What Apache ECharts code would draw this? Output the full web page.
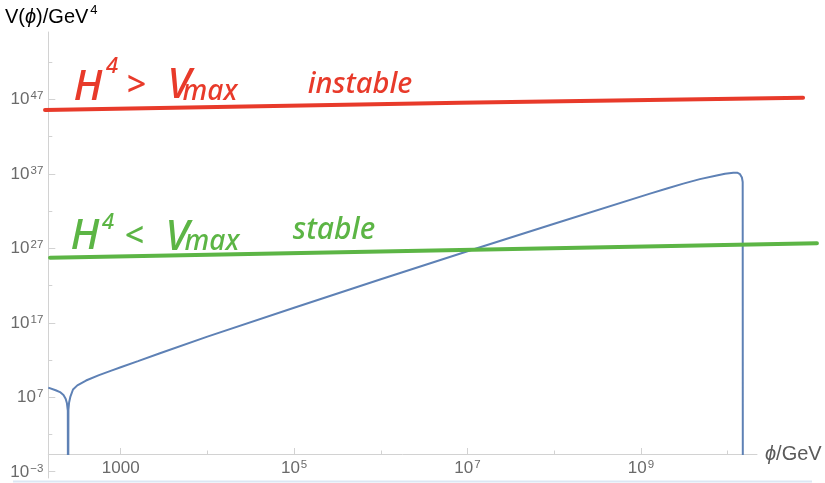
<!DOCTYPE html>
<html>
<head>
<meta charset="utf-8">
<script src="https://cdn.jsdelivr.net/npm/echarts@6/dist/echarts.min.js"></script>
<style>
  html, body { margin: 0; padding: 0; background: #fff; }
  #chart { width: 825px; height: 483px; }
</style>
</head>
<body>
<div id="chart"></div>
<script>
// Effective potential V(ϕ): log10 ϕ (GeV) against log10 V (GeV^4).
// V passes through zero near ϕ ≈ 250 GeV and again near ϕ ≈ 1.5e10 GeV,
// where log10 V diverges; those points sit far below the axis and are clipped.
const phiExp = [2.165, 2.25, 2.30, 2.34, 2.365, 2.38, 2.39, 2.393, 2.397, 2.405,
                2.42, 2.45, 2.50, 2.60, 2.75, 2.90, 3.0, 3.2, 3.453, 4.0,
                5.0, 6.0, 7.0, 8.0, 9.105, 9.3, 9.489, 9.68, 9.874, 9.97,
                10.066, 10.11, 10.143, 10.165, 10.174, 10.176];
const vExp   = [8.3, 7.95, 7.7, 7.3, 6.8, 6.2, 5.2, -20, 5.3, 6.3,
                7.1, 8.05, 8.6, 9.25, 9.98, 10.62, 11.03, 11.85, 12.92, 15.14,
                19.02, 22.85, 26.61, 30.30, 34.34, 35.03, 35.68, 36.28, 36.78, 37.0,
                37.15, 37.15, 36.95, 36.5, 35.9, -20];

// Hand-drawn H^4 levels
const unstablePhiExp = [2.127, 6.913, 10.87];
const unstableVExp   = [45.56, 46.54, 47.21];
const stablePhiExp   = [2.185, 6.913, 11.03];
const stableVExp     = [25.74, 26.77, 27.67];

// Axis ticks (powers of ten)
const xMajorExp = [3, 5, 7, 9];
const xMinorExp = [4, 6, 8, 10];
const yMajorExp = [-3, 7, 17, 27, 37, 47];
const yMinorExp = [2, 12, 22, 32, 42, 52];

const zip = (a, b) => a.map((v, i) => [v, b[i]]);

const AXIS = '#d2d2d2';
const LABEL = '#6a6a6a';
const NAME = '#5a5a5a';
const FONT = 'Liberation Sans';
const BLUE = '#5e81b5';
const RED = '#e83a2a';
const GREEN = '#5cb545';

// x and y scales: 86.7 px per decade of ϕ, 7.45 px per decade of V
const X_MIN = 2.165, X_MAX = 10.339;
const Y_MIN = -0.61, Y_MAX = 56.03;
const Y_AXIS_MIN = -3.84;

const powRich = {
  b: { fontFamily: FONT, fontSize: 17, color: LABEL, lineHeight: 18, verticalAlign: 'bottom' },
  s: { fontFamily: FONT, fontSize: 11.5, color: LABEL, lineHeight: 18, verticalAlign: 'top', padding: [0, 0, 0, 1] }
};
function powLabel(n) {
  const e = n < 0 ? '\u2212' + Math.abs(n) : String(n);
  return '{b|10}{s|' + e + '}';
}

const chart = echarts.init(document.getElementById('chart'), null, { renderer: 'canvas' });

// Handwritten annotations
const hand = (text, x, y, size, color) => ({
  type: 'text', x: x, y: y, silent: true,
  style: {
    text: text, fill: color, align: 'center', verticalAlign: 'middle',
    font: 'italic 500 ' + size + 'px "Noto Sans"'
  }
});

chart.setOption({
  animation: false,
  backgroundColor: '#ffffff',
  grid: [
    { left: 48.3, top: 32, width: 708.7, height: 422 },
    { left: 48.3, top: 32, width: 708.7, height: 446 },
    { left: 40, top: 32, width: 785, height: 422 }
  ],
  xAxis: [
    {
      gridIndex: 0, type: 'value', min: X_MIN, max: X_MAX, position: 'bottom',
      axisLine: { onZero: false, lineStyle: { color: AXIS, width: 1 } },
      axisTick: { inside: true, length: 6, customValues: xMajorExp, lineStyle: { color: AXIS } },
      axisLabel: {
        customValues: xMajorExp, margin: 5,
        formatter: v => v === 3 ? '{b|1000}' : powLabel(v), rich: powRich
      },
      splitLine: { show: false },
      name: '{i|ϕ}{t|/GeV}', nameLocation: 'end', nameGap: 8,
      nameTextStyle: {
        rich: {
          i: { fontFamily: FONT, fontSize: 20, fontStyle: 'italic', color: NAME },
          t: { fontFamily: FONT, fontSize: 20, color: NAME }
        }
      }
    },
    {
      gridIndex: 0, type: 'value', min: X_MIN, max: X_MAX, position: 'bottom',
      axisLine: { show: false, onZero: false },
      axisTick: { inside: true, length: 3.5, customValues: xMinorExp, lineStyle: { color: AXIS } },
      axisLabel: { show: false }, splitLine: { show: false }
    },
    { gridIndex: 1, type: 'value', min: 0, max: 1, show: false },
    { gridIndex: 2, type: 'value', min: 2.069, max: 11.123, show: false }
  ],
  yAxis: [
    { gridIndex: 0, type: 'value', min: Y_MIN, max: Y_MAX, show: false },
    {
      gridIndex: 1, type: 'value', min: Y_AXIS_MIN, max: Y_MAX, position: 'left',
      axisLine: { show: true, onZero: false, lineStyle: { color: AXIS, width: 1 } },
      axisTick: { show: true, inside: true, length: 7, customValues: yMajorExp, lineStyle: { color: AXIS } },
      axisLabel: { customValues: yMajorExp, margin: 5, formatter: v => powLabel(v), rich: powRich },
      splitLine: { show: false }
    },
    {
      gridIndex: 1, type: 'value', min: Y_AXIS_MIN, max: Y_MAX, position: 'left',
      axisLine: { show: false, onZero: false },
      axisTick: { show: true, inside: true, length: 4, customValues: yMinorExp, lineStyle: { color: AXIS } },
      axisLabel: { show: false }, splitLine: { show: false }
    },
    { gridIndex: 2, type: 'value', min: Y_MIN, max: Y_MAX, show: false }
  ],
  series: [
    {
      type: 'line', xAxisIndex: 0, yAxisIndex: 0,
      data: zip(phiExp, vExp), showSymbol: false, symbol: 'none', clip: true,
      lineStyle: { color: BLUE, width: 2 }, z: 3
    },
    {
      type: 'line', xAxisIndex: 3, yAxisIndex: 3,
      data: zip(unstablePhiExp, unstableVExp), symbol: 'none', clip: false,
      lineStyle: { color: RED, width: 4, cap: 'round' }, z: 4
    },
    {
      type: 'line', xAxisIndex: 3, yAxisIndex: 3,
      data: zip(stablePhiExp, stableVExp), symbol: 'none', clip: false,
      lineStyle: { color: GREEN, width: 4, cap: 'round' }, z: 4
    }
  ],
  graphic: [
    {
      type: 'text', left: 5, top: 4, silent: true,
      style: {
        text: '{t|V(}{i|ϕ}{t|)/GeV}{s|4}',
        rich: {
          t: { fontFamily: FONT, fontSize: 20, color: NAME, lineHeight: 23, verticalAlign: 'bottom' },
          i: { fontFamily: FONT, fontSize: 20, color: NAME, fontStyle: 'italic', lineHeight: 23, verticalAlign: 'bottom' },
          s: { fontFamily: FONT, fontSize: 13, color: NAME, lineHeight: 23, verticalAlign: 'top', padding: [0, 0, 0, 2] }
        }
      }
    },
    hand('H', 88, 88, 42, RED),
    hand('4', 112, 67, 22, RED),
    hand('>', 136, 86, 34, RED),
    hand('V', 179, 86, 42, RED),
    hand('max', 210, 92, 28, RED),
    hand('instable', 360, 85, 29, RED),
    hand('H', 85, 237, 42, GREEN),
    hand('4', 108, 223, 22, GREEN),
    hand('<', 134, 237, 34, GREEN),
    hand('V', 177, 238, 42, GREEN),
    hand('max', 212, 242, 28, GREEN),
    hand('stable', 334, 230, 30, GREEN),
    {
      type: 'line', silent: true,
      shape: { x1: 13, y1: 481.5, x2: 812, y2: 481.5 },
      style: { stroke: '#dce7f4', lineWidth: 2 }
    }
  ]
});
</script>
</body>
</html>
